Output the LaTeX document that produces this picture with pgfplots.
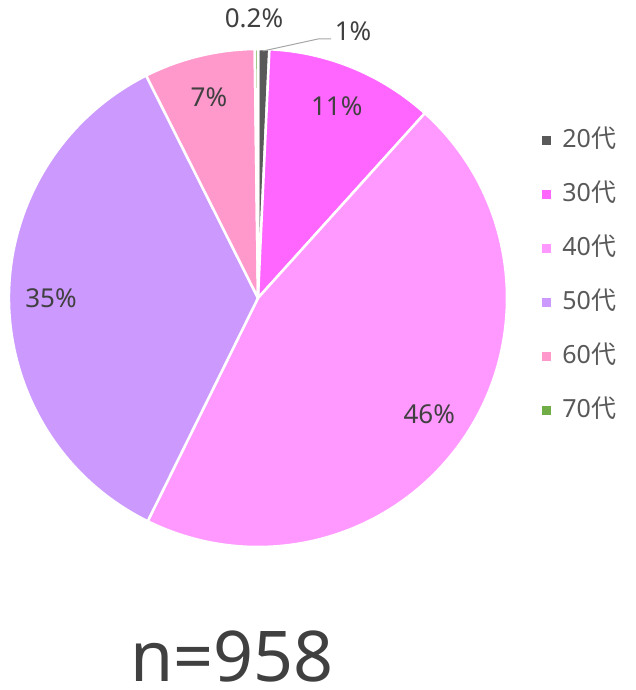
\documentclass[border=0pt]{standalone}
\usepackage{fontspec}
\setmainfont{Noto Sans}
\newfontfamily\cjk{Noto Sans CJK JP}
\usepackage{pgfplots}
\usepackage{pgfplotstable}
\pgfplotsset{compat=1.18}

\definecolor{c20}{HTML}{595959}
\definecolor{c30}{HTML}{FF66FF}
\definecolor{c40}{HTML}{FF99FF}
\definecolor{c50}{HTML}{CC99FF}
\definecolor{c60}{HTML}{FF99CC}
\definecolor{c70}{HTML}{70AD47}
\definecolor{txt}{HTML}{404040}
\definecolor{legtxt}{HTML}{595959}

% respondents by age group (n=958)
\pgfplotstableread{
age count col lab
20 7   c20 1
30 105 c30 11
40 437 c40 46
50 338 c50 35
60 69  c60 7
70 2   c70 0.2
}\agedata

\begin{document}
\begin{tikzpicture}
\begin{axis}[
    width=635pt, height=690pt, scale only axis,
    xmin=0, xmax=635, ymin=0, ymax=690,
    hide axis, clip=false,
    legend cell align=left,
    legend image code/.code={\fill[#1, draw=none] (0pt,-4.5pt) rectangle (9pt,4.5pt); \path (19pt,0pt);},
    legend style={at={(axis cs:542,563)}, anchor=north west, draw=none, fill=none,
        inner sep=0pt, font=\fontsize{25}{29}\selectfont\color{legtxt},
        nodes={inner sep=1pt, text height=19pt, text depth=5pt},
        row sep=28pt},
]
\def\cum{0}
\pgfplotsforeachungrouped \i in {0,...,5}{
    \pgfplotstablegetelem{\i}{count}\of\agedata \let\cnt\pgfplotsretval
    \pgfplotstablegetelem{\i}{col}\of\agedata \let\col\pgfplotsretval
    \pgfplotstablegetelem{\i}{lab}\of\agedata \let\lab\pgfplotsretval
    \pgfmathsetmacro\a{90-(\cum/958)*360}
    \pgfmathsetmacro\b{90-((\cum+\cnt)/958)*360}
    \pgfmathsetmacro\m{(\a+\b)/2}
    \pgfmathsetmacro\lx{258+207*cos(\m)}
    \pgfmathsetmacro\ly{392+207*sin(\m)}
    \edef\temp{\noexpand\fill[\col, draw=white, line width=2.5pt, line join=round]
        (axis cs:258,392) -- ++(\a:249pt) arc[start angle=\a, end angle=\b, radius=249pt] -- cycle;}
    \temp
    \ifnum\i>0 \ifnum\i<5
        \edef\temp{\noexpand\node[txt, font=\noexpand\fontsize{26}{30}\noexpand\selectfont]
            at (axis cs:\lx,\ly) {\lab\noexpand\%};}
        \temp
    \fi\fi
    \pgfmathsetmacro\cum{\cum+\cnt}
}
% small slices: outside labels
\draw[gray!70, line width=1pt] (axis cs:263,639) -- (axis cs:318,651) -- (axis cs:331,651);
\node[txt, font=\fontsize{26}{30}\selectfont] at (axis cs:353,659) {1\%};
\node[txt, font=\fontsize{26}{30}\selectfont] at (axis cs:254,672) {0.2\%};

\node[txt, font=\fontsize{70}{74}\selectfont, anchor=base, inner sep=0pt] at (axis cs:232,9) {n=958};

\addlegendimage{fill=c20}\addlegendentry{20{\cjk 代}}
\addlegendimage{fill=c30}\addlegendentry{30{\cjk 代}}
\addlegendimage{fill=c40}\addlegendentry{40{\cjk 代}}
\addlegendimage{fill=c50}\addlegendentry{50{\cjk 代}}
\addlegendimage{fill=c60}\addlegendentry{60{\cjk 代}}
\addlegendimage{fill=c70}\addlegendentry{70{\cjk 代}}
\end{axis}
\pgfresetboundingbox
\path[use as bounding box] (0,0) rectangle (635pt,690pt);
\end{tikzpicture}
\end{document}
